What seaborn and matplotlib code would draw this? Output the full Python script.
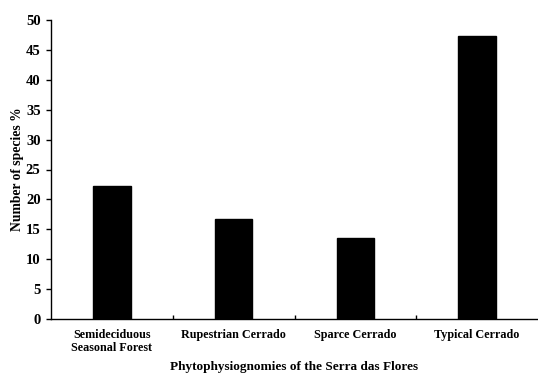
import matplotlib
matplotlib.use("Agg")
import matplotlib.pyplot as plt
import seaborn as sns
import pandas as pd

categories = ["Semideciduous\nSeasonal Forest", "Rupestrian Cerrado", "Sparce Cerrado", "Typical Cerrado"]
values = [22.2, 16.8, 13.5, 47.3]
yticks = [0, 5, 10, 15, 20, 25, 30, 35, 40, 45, 50]

sns.set_theme(style="ticks")
plt.rcParams['font.family'] = ['Liberation Serif', 'DejaVu Serif']
plt.rcParams['font.weight'] = 'bold'
plt.rcParams['text.color'] = 'black'
plt.rcParams['axes.labelcolor'] = 'black'
plt.rcParams['xtick.color'] = 'black'
plt.rcParams['ytick.color'] = 'black'

df = pd.DataFrame({"cat": categories, "val": values})

fig = plt.figure(figsize=(5.38, 3.74), dpi=100)
ax = fig.add_axes([51/538, (374-319)/374, (538-51)/538, (319-20)/374])
sns.barplot(data=df, x="cat", y="val", color="black", width=0.31, ax=ax,
            saturation=1, edgecolor="black")
ax.set_xlim(-0.5, 3.5)
ax.set_ylim(0, 50)
ax.set_yticks(yticks)
ax.set_yticklabels([str(t) for t in yticks], fontsize=10.5, fontweight='bold', color='black')
ax.tick_params(axis='y', direction='out', length=3.5, width=1, pad=4, colors='black')
ax.set_xticks(range(4))
ax.set_xticklabels(categories, fontsize=8.7, fontweight='bold', linespacing=1.1, color='black')
ax.tick_params(axis='x', which='major', length=0, pad=7)
ax.set_xticks([0.5, 1.5, 2.5], minor=True)
ax.tick_params(axis='x', which='minor', direction='in', length=3, width=1, colors='black')
ax.set_xlabel("Phytophysiognomies of the Serra das Flores", fontsize=9.5, fontweight='bold', labelpad=5, color='black')
ax.set_ylabel("Number of species %", fontsize=9.8, fontweight='bold', labelpad=1, color='black')
for side in ['top', 'right']:
    ax.spines[side].set_visible(False)
for side in ['left', 'bottom']:
    ax.spines[side].set_color('black')
    ax.spines[side].set_linewidth(1)
fig.savefig("out.png", dpi=100)
